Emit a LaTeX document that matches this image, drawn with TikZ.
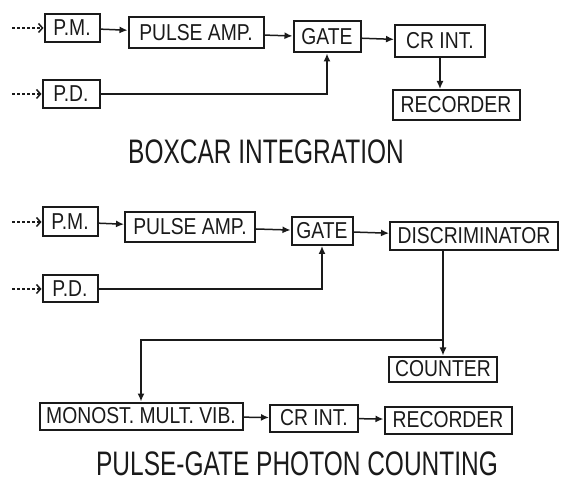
\documentclass[tikz,border=0pt]{standalone}
\usepackage{fontspec}
\setmainfont{Liberation Sans}
\newfontfamily\boxfont[FakeStretch=0.84]{Liberation Sans}
\newfontfamily\titlefont[FakeStretch=0.72]{Liberation Sans}
\usetikzlibrary{positioning, arrows.meta, calc}
\definecolor{inkblack}{HTML}{1A1A1A}

\tikzset{
    blockbox/.style={draw=inkblack, line width=2pt, inner sep=1pt, text=inkblack,
          font=\boxfont\fontsize{23}{23}\selectfont},
    feed/.style={draw=inkblack, line width=1.5pt, -{Latex[length=8pt, width=7pt]}},
    infeed/.style={draw=inkblack, line width=1.5pt, dash pattern=on 2.5pt off 2.5pt,
          -{Straight Barb[length=4pt, width=9pt]}},
    caption/.style={text=inkblack, font=\titlefont\fontsize{34}{34}\selectfont}
}

\begin{document}
\begin{tikzpicture}[x=1pt, y=-1pt]
    \useasboundingbox (0,0) rectangle (565,494);

    \node[blockbox, minimum width=55pt, minimum height=28pt] (pmA) at (72,28) {P.M.};
    \node[blockbox, minimum width=135pt, minimum height=31pt] (ampA) at (196,33) {PULSE AMP.};
    \node[blockbox, minimum width=67pt, minimum height=31pt] (gateA) at (327,37) {GATE};
    \node[blockbox, minimum width=90pt, minimum height=32pt] (crA) at (440,41) {CR INT.};
    \node[blockbox, minimum width=127pt, minimum height=30pt] (recA) at (456,105) {RECORDER};
    \node[blockbox, minimum width=57pt, minimum height=28pt] (pdA) at (71,94) {P.D.};
    \coordinate (inA) at (12,28);
    \coordinate (inB) at (12,94);
    \node[caption] (titleA) at (266,152) {BOXCAR INTEGRATION};

    \draw[infeed] (inA) -- (pmA);
    \draw[infeed] (inB) -- (pdA);
    \draw[feed] (pmA) -- (ampA);
    \draw[feed] (ampA) -- (gateA);
    \draw[feed] (gateA) -- (crA);
    \draw[feed] (pdA) -| (gateA);
    \draw[feed] (crA.south -| 440,0) -- (recA.north -| 440,0);

    \node[blockbox, minimum width=55pt, minimum height=29pt] (pmB) at (70,222) {P.M.};
    \node[blockbox, minimum width=130pt, minimum height=30pt] (ampB) at (190,227) {PULSE AMP.};
    \node[blockbox, minimum width=61pt, minimum height=28pt] (gateB) at (322,231) {GATE};
    \node[blockbox, minimum width=168pt, minimum height=28pt] (disc) at (474,236) {DISCRIMINATOR};
    \node[blockbox, minimum width=55pt, minimum height=27pt] (pdB) at (70,289) {P.D.};
    \node[blockbox, minimum width=108pt, minimum height=25pt] (counter) at (443,369) {COUNTER};
    \node[blockbox, minimum width=203pt, minimum height=27pt] (monost) at (141,416) {MONOST. MULT. VIB.};
    \node[blockbox, minimum width=88pt, minimum height=27pt] (crB) at (314,418) {CR INT.};
    \node[blockbox, minimum width=127pt, minimum height=27pt] (recB) at (448,420) {RECORDER};
    \coordinate (inC) at (12,222);
    \coordinate (inD) at (12,289);
    \coordinate (split) at (443,340);
    \node[caption] (titleB) at (297,464) {PULSE-GATE PHOTON COUNTING};

    \draw[infeed] (inC) -- (pmB);
    \draw[infeed] (inD) -- (pdB);
    \draw[feed] (pmB) -- (ampB);
    \draw[feed] (ampB) -- (gateB);
    \draw[feed] (gateB) -- (disc);
    \draw[feed] (pdB) -| (gateB);
    \draw[feed] (disc.south -| counter) -- (counter);
    \draw[feed] (split) -| (monost);
    \draw[feed] (monost) -- (crB);
    \draw[feed] (crB) -- (recB);
\end{tikzpicture}
\end{document}
